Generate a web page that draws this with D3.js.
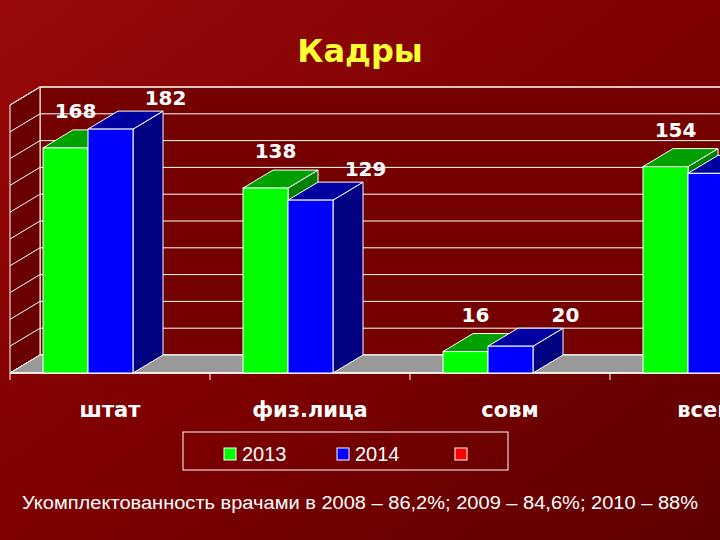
<!DOCTYPE html><html><head><meta charset="utf-8"><script src="https://cdn.jsdelivr.net/npm/d3@7"></script>
<style>body{margin:0}</style></head><body><svg id="c" width="720" height="540"></svg>
<script>
const categories=["штат","физ.лица","совм","всего"];
const series=["2013","2014"];
const values2013=[168,138,16,154];
const values2014=[182,129,20,149];
const yTicks=[0,20,40,60,80,100,120,140,160,180,200];
const colors=["#00ff00","#0000ff"],tops=["#00a000","#0000a0"],sides=["#008000","#000080"];
const svg=d3.select("#c");
const defs=svg.append("defs");
const g1=defs.append("linearGradient").attr("id","bg").attr("x1",0).attr("y1",0).attr("x2",1).attr("y2",1);
g1.append("stop").attr("offset",0).attr("stop-color","#9a0a0a");
g1.append("stop").attr("offset",0.5).attr("stop-color","#7e0000");
g1.append("stop").attr("offset",1).attr("stop-color","#5e0000");
svg.append("rect").attr("width",720).attr("height",540).attr("fill","url(#bg)");
svg.append("text").attr("x",360).attr("y",62).attr("text-anchor","middle").attr("fill","#ffff33")
 .attr("font-family","DejaVu Sans").attr("font-weight","bold").attr("font-size",32).text("Кадры");
const dx=30,dy=-18,floorY=373,x0=10;
const x=d3.scaleBand().domain(categories).range([x0,810]);
const y=d3.scaleLinear().domain([0,200]).range([floorY,floorY-268]);
svg.append("rect").attr("x",x0+dx).attr("y",y(200)+dy).attr("width",800).attr("height",y(0)-y(200)).attr("fill","#740000").attr("stroke","#fff").attr("stroke-width",1);
svg.append("path").attr("d",`M${x0},${y(0)}L${x0+dx},${y(0)+dy}L${x0+dx},${y(200)+dy}L${x0},${y(200)}Z`).attr("fill","#6a0000").attr("stroke","#fff");
yTicks.forEach(t=>{
 svg.append("line").attr("x1",x0+dx).attr("x2",810).attr("y1",y(t)+dy).attr("y2",y(t)+dy).attr("stroke","#fff");
 svg.append("line").attr("x1",x0).attr("x2",x0+dx).attr("y1",y(t)).attr("y2",y(t)+dy).attr("stroke","#fff");
});
svg.append("path").attr("d",`M${x0},${floorY}L${x0+dx},${floorY+dy}L820,${floorY+dy}L820,${floorY}Z`).attr("fill","#999").attr("stroke","#fff");
svg.append("line").attr("x1",x0).attr("x2",720).attr("y1",floorY).attr("y2",floorY).attr("stroke","#fff").attr("stroke-width",1.5);
categories.forEach(c=>svg.append("line").attr("x1",x(c)).attr("x2",x(c)).attr("y1",floorY).attr("y2",floorY+7).attr("stroke","#fff"));
const bw=45;
const bars=[];
categories.forEach((c,i)=>[values2013[i],values2014[i]].forEach((v,s)=>bars.push({c,v,s})));
bars.forEach(b=>{
 const bx=x(b.c)+33+b.s*bw, by=y(b.v);
 const g=svg.append("g").attr("stroke","#fff").attr("stroke-width",1);
 g.append("path").attr("d",`M${bx+bw},${by}L${bx+bw+dx},${by+dy}L${bx+bw+dx},${floorY+dy}L${bx+bw},${floorY}Z`).attr("fill",sides[b.s]);
 g.append("path").attr("d",`M${bx},${by}L${bx+dx},${by+dy}L${bx+bw+dx},${by+dy}L${bx+bw},${by}Z`).attr("fill",tops[b.s]);
 g.append("rect").attr("x",bx).attr("y",by).attr("width",bw).attr("height",floorY-by).attr("fill",colors[b.s]);
});
bars.forEach(b=>{
 const bx=x(b.c)+33+b.s*bw, by=y(b.v);
 svg.append("text").attr("x",bx+bw/2+(b.s?55:10)).attr("y",by-(b.s?24:30)).attr("text-anchor","middle")
  .attr("fill","#fff").attr("font-family","DejaVu Sans").attr("font-weight","bold").attr("font-size",20).text(b.v);
});
categories.forEach(c=>svg.append("text").attr("x",x(c)+x.bandwidth()/2).attr("y",417).attr("text-anchor","middle")
 .attr("fill","#fff").attr("font-family","DejaVu Sans").attr("font-weight","bold").attr("font-size",21).text(c));
svg.append("rect").attr("x",183).attr("y",432).attr("width",325).attr("height",38).attr("fill","none").attr("stroke","#fff");
const lg=[["2013","#00ff00",224],["2014","#0000ff",337],["","#ff0000",455]];
lg.forEach(l=>{svg.append("rect").attr("x",l[2]).attr("y",448).attr("width",12).attr("height",12).attr("fill",l[1]).attr("stroke","#fff");
 svg.append("text").attr("x",l[2]+18).attr("y",461).attr("fill","#fff").attr("font-family","Liberation Sans").attr("font-size",20).text(l[0]);});
svg.append("text").attr("x",360).attr("y",509).attr("text-anchor","middle").attr("fill","#fff").attr("font-family","Liberation Sans").attr("font-size",18)
 .attr("textLength",676).attr("lengthAdjust","spacingAndGlyphs")
 .text("Укомплектованность врачами в 2008 – 86,2%; 2009 – 84,6%; 2010 – 88%");
</script></body></html>
